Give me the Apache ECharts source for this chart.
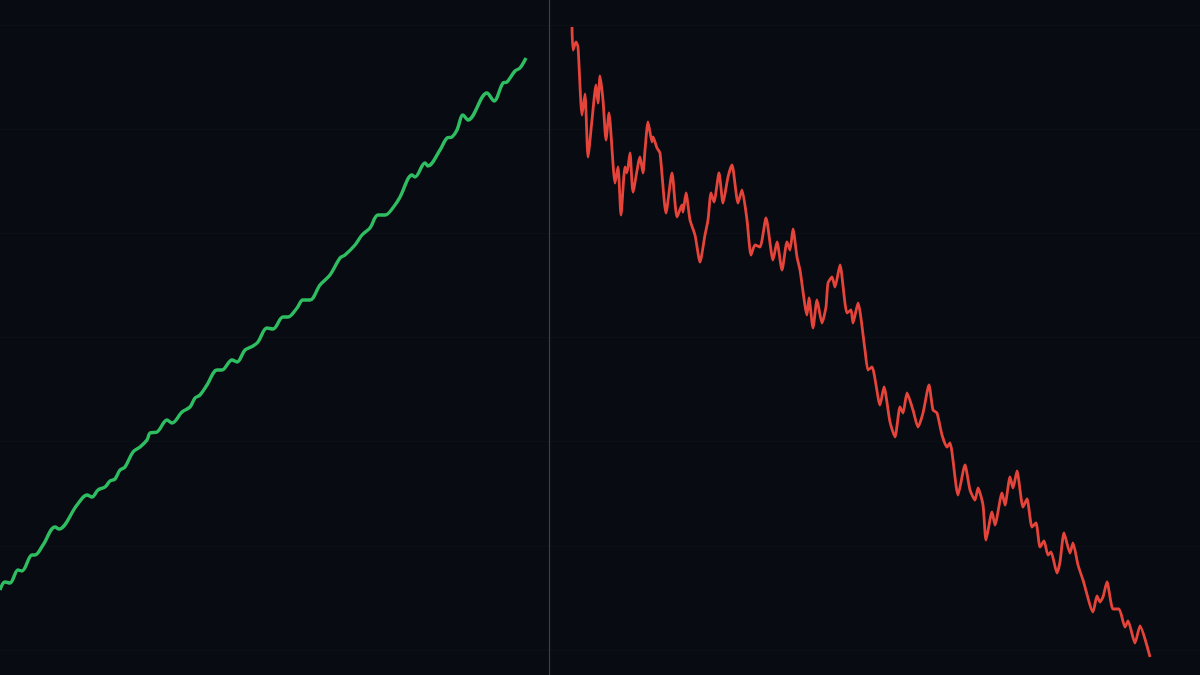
<!DOCTYPE html>
<html>
<head>
<meta charset="utf-8">
<script src="https://cdn.jsdelivr.net/npm/echarts@6/dist/echarts.min.js"></script>
<style>
html,body{margin:0;padding:0;background:#080b11;}
#c{width:1200px;height:675px;}
</style>
</head>
<body>
<div id="c"></div>
<script>
// Time index (x) and price (y) for the rising leg
const upX = [0,5,10,18,22,32,35,43,55,59,77,87,92,98,105,110,115,120,125,133,140,147,150,157,167,172,182,190,195,200,207,217,222,232,237,245,253,258,267,273,283,288,297,303,310,320,330,340,345,355,362,370,378,385,395,400,412,415,425,428,440,447,452,457,463,468,487,494,503,507,515,520,526];
const upY = [85,93,92,105,104,120,120,130,148,146,170,180,178,185,188,194,196,205,208,223,228,235,242,243,255,252,263,268,277,280,290,305,305,315,313,325,329,333,347,346,358,358,367,375,375,390,400,417,420,430,440,447,460,460,470,478,500,498,512,509,525,537,538,545,560,555,582,574,592,593,604,607,617];
// Time index (x) and price (y) for the falling leg
const downX = [572,573,576,578,582,585,588,592,596,598,600,603,606,609,615,618,621,625,627,630,633,640,643,645,648,652,653,657,660,666,672,677,682,683,686,690,695,700,705,708,711,714,719,723,728,732,738,742,747,751,755,760,766,773,777,782,787,790,793,797,800,807,809,813,817,822,826,828,832,835,840,847,851,853,858,865,868,872,880,884,890,895,900,903,907,913,918,923,929,933,937,942,947,950,958,965,970,975,978,983,986,992,995,1002,1005,1010,1013,1017,1023,1027,1032,1036,1040,1044,1048,1051,1057,1060,1064,1070,1073,1078,1083,1093,1097,1100,1103,1107,1113,1119,1125,1128,1135,1140,1150];
const downY = [648,625,633,628,560,581,518,555,590,572,599,575,535,562,492,508,460,508,502,522,483,518,502,525,553,533,538,527,522,462,502,458,470,463,482,455,440,413,440,455,482,473,502,472,498,510,472,485,455,420,430,428,457,415,433,405,433,425,446,418,405,360,377,347,375,352,368,392,398,388,410,362,365,352,372,325,305,308,270,288,253,238,268,262,282,265,248,262,290,265,262,240,228,232,180,210,185,175,187,170,135,163,150,182,170,198,187,204,168,176,148,152,128,134,120,123,102,113,142,122,132,110,95,63,79,73,78,93,66,66,48,54,32,49,18];
// Session split
const dividerX = 549;

const upSeries = upX.map((x, i) => [x, upY[i]]);
const downSeries = downX.map((x, i) => [x, downY[i]]);

const hidden = {axisLine: {show: false}, axisTick: {show: false}, axisLabel: {show: false}};

const chart = echarts.init(document.getElementById('c'));
chart.setOption({
  backgroundColor: '#080b11',
  animation: false,
  grid: [
    {left: 0, right: 0, top: 25, bottom: 25},
    {left: 0, right: 0, top: 0, bottom: 0}
  ],
  xAxis: [
    Object.assign({type: 'value', gridIndex: 0, min: 0, max: 1200, splitLine: {show: false}}, hidden),
    Object.assign({type: 'value', gridIndex: 1, min: 0, max: 1200, splitLine: {show: false}}, hidden)
  ],
  yAxis: [
    Object.assign({type: 'value', gridIndex: 0, min: 0, max: 600, interval: 100,
      splitLine: {show: true, lineStyle: {color: '#0c1016', width: 1}}}, hidden),
    Object.assign({type: 'value', gridIndex: 1, min: 0, max: 675, splitLine: {show: false}}, hidden)
  ],
  series: [
    {
      type: 'line', xAxisIndex: 1, yAxisIndex: 1, data: upSeries, smooth: 0.35, symbol: 'none', clip: false,
      lineStyle: {color: '#2fbd62', width: 3.4},
      markLine: {
        silent: true, symbol: 'none', label: {show: false},
        lineStyle: {color: '#3b4048', width: 1.2, type: 'solid'},
        data: [{xAxis: dividerX}]
      }
    },
    {
      type: 'line', xAxisIndex: 1, yAxisIndex: 1, data: downSeries, smooth: 0.2, symbol: 'none', clip: false,
      lineStyle: {color: '#e5443a', width: 2.8}
    }
  ]
});
</script>
</body>
</html>
